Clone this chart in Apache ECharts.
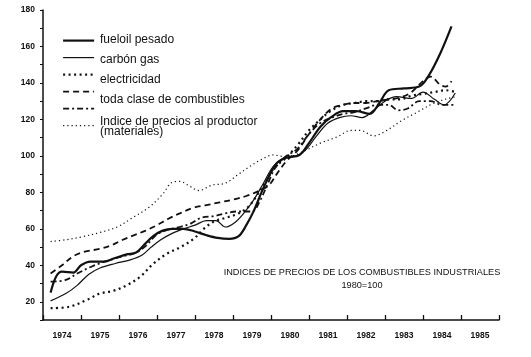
<!DOCTYPE html>
<html>
<head>
<meta charset="utf-8">
<script src="https://cdn.jsdelivr.net/npm/echarts@6/dist/echarts.min.js"></script>
<style>
html,body{margin:0;padding:0;background:#fff;}
#chart{width:531px;height:357px;}
</style>
</head>
<body>
<div id="chart"></div>
<script>
// Categories (x-axis years) and y tick values
const years = ['1974','1975','1976','1977','1978','1979','1980','1981','1982','1983','1984','1985'];
const yLabelValues = [20, 40, 60, 80, 100, 120, 140, 160, 180];

// Legend labels as printed
const legendLabels = ['fueloil pesado', 'carbón gas', 'electricidad', 'toda clase de combustibles', 'Indice de precios al productor', '(materiales)'];
const chartTitle = 'INDICES DE PRECIOS DE LOS COMBUSTIBLES INDUSTRIALES';
const chartSubtitle = '1980=100';

// Series values: [time in years, index value]
const fueloil = [[1974.2,25],[1974.35,34],[1974.5,36.5],[1974.8,36],[1975.0,40],[1975.25,42],[1975.6,42],[1975.9,44],[1976.2,46],[1976.45,47],[1976.65,51],[1976.9,56],[1977.15,59],[1977.4,60],[1977.7,60],[1978.0,58.5],[1978.3,56.5],[1978.6,55],[1978.9,54.5],[1979.15,56],[1979.35,62],[1979.55,70],[1979.75,80],[1979.95,89],[1980.15,96],[1980.4,99],[1980.75,100.5],[1981.0,107],[1981.3,116],[1981.6,121.5],[1981.9,124.5],[1982.25,124.5],[1982.6,123],[1982.85,129],[1983.1,136],[1983.5,137],[1983.9,138],[1984.15,144],[1984.45,156],[1984.75,171]];
const carbonGas = [[1974.2,20.5],[1974.6,24.5],[1974.9,29],[1975.2,35],[1975.5,38.5],[1975.9,41],[1976.3,43],[1976.6,45.5],[1976.85,50],[1977.1,54],[1977.4,57.5],[1977.7,60],[1978.0,62],[1978.3,64.5],[1978.55,64.5],[1978.8,61],[1979.05,63.5],[1979.3,69],[1979.55,76],[1979.8,85],[1980.05,94],[1980.3,98.5],[1980.6,99.5],[1980.9,103],[1981.2,111],[1981.5,118],[1981.8,121],[1982.1,122],[1982.4,121],[1982.7,125],[1983.0,130],[1983.3,132.5],[1983.7,131.5],[1984.0,135],[1984.3,131],[1984.55,128],[1984.85,134.5]];
const electricidad = [[1974.2,16.5],[1974.7,17.3],[1975.15,21],[1975.5,24.5],[1975.85,26],[1976.2,29],[1976.55,33.6],[1976.9,40.8],[1977.25,46.2],[1977.6,49.8],[1977.96,54.4],[1978.22,59.8],[1978.5,64],[1978.8,66],[1979.1,68],[1979.4,72],[1979.65,79],[1979.9,87],[1980.1,94],[1980.35,98],[1980.7,106],[1981.0,114],[1981.3,120],[1981.6,125],[1981.9,128],[1982.2,129],[1982.5,130],[1982.8,130],[1983.1,131],[1983.4,131],[1983.7,133],[1984.0,134],[1984.3,135],[1984.6,136],[1984.85,135]];
const gasDashed = [[1974.2,35.5],[1974.5,40],[1974.8,45],[1975.1,47.5],[1975.5,49],[1975.8,51],[1976.1,54],[1976.4,56.5],[1976.7,59],[1977.0,62],[1977.3,65.5],[1977.6,68.5],[1977.95,71.5],[1978.3,73],[1978.65,74.5],[1979.0,76],[1979.35,78],[1979.7,81],[1979.95,84],[1980.15,90],[1980.4,97],[1980.7,103],[1981.0,112],[1981.3,120],[1981.6,126],[1981.9,128],[1982.2,129],[1982.5,129],[1982.8,130],[1983.1,131],[1983.4,132],[1983.7,135],[1984.0,141],[1984.2,143.5],[1984.45,139],[1984.6,138],[1984.75,141]];
const todaClase = [[1974.2,31],[1974.6,32],[1974.9,35.5],[1975.3,39.5],[1975.7,42.5],[1976.1,45],[1976.4,46.5],[1976.7,50.5],[1977.0,57],[1977.3,59.5],[1977.6,61],[1977.9,63],[1978.15,66],[1978.5,67],[1978.8,68.5],[1979.1,69.5],[1979.5,69.5],[1979.7,75],[1979.9,84],[1980.1,93],[1980.35,99],[1980.7,104],[1981.0,112],[1981.3,118],[1981.6,121],[1981.9,123],[1982.2,124],[1982.5,126],[1982.8,128],[1983.1,128],[1983.35,125],[1983.6,126],[1983.9,130],[1984.2,130],[1984.5,128],[1984.85,128]];
const productor = [[1974.2,53],[1974.6,54],[1975.0,55.5],[1975.5,58],[1975.95,61],[1976.35,66],[1976.8,72],[1977.15,79],[1977.4,85.5],[1977.6,86],[1977.85,83.5],[1978.1,81],[1978.45,84],[1978.8,85],[1979.15,90],[1979.5,95],[1979.75,98],[1980.05,100.5],[1980.4,99.5],[1980.75,101.5],[1981.3,107],[1981.75,110.5],[1982.1,114],[1982.35,114],[1982.7,111],[1983.05,114],[1983.45,119.5],[1983.85,124],[1984.25,128.5],[1984.65,131.5],[1984.9,132.5]];

const chart = echarts.init(document.getElementById('chart'), null, {renderer: 'canvas'});
const ink = '#111';
const font = '"Liberation Sans", Arial, sans-serif';

function mk(name, data, width, dash) {
  return {
    name: name, type: 'line', xAxisIndex: 1, yAxisIndex: 0,
    data: data, smooth: 0.35, symbol: 'none', silent: true,
    color: ink,
    itemStyle: {color: ink},
    lineStyle: {color: ink, width: width, type: dash, cap: 'butt'},
    z: 3
  };
}

const series = [
  mk('fueloil pesado', fueloil, 2.2, 'solid'),
  mk('carbón gas', carbonGas, 1.2, 'solid'),
  mk('electricidad', electricidad, 2.2, [2, 3.5]),
  mk('gas', gasDashed, 1.8, [6, 4]),
  mk('toda clase de combustibles', todaClase, 1.8, [6, 3, 2, 3]),
  mk('Indice de precios al productor (materiales)', productor, 1.2, [1.2, 3])
];

chart.setOption({
  animation: false,
  backgroundColor: '#fff',
  color: [ink],
  grid: {left: 43, right: 32, top: 10, bottom: 37, containLabel: false},
  legend: {
    orient: 'vertical', left: 57, top: 30,
    itemWidth: 31, itemHeight: 14, itemGap: 5.8,
    selectedMode: false,
    formatter: function () { return ''; },
    textStyle: {fontSize: 8, lineHeight: 10},
    itemStyle: {opacity: 0, borderWidth: 0},
    lineStyle: {width: 'inherit'},
    data: series.map(s => s.name)
  },
  xAxis: [{
    type: 'category', data: years, boundaryGap: true, position: 'bottom',
    axisLine: {lineStyle: {color: ink, width: 1.5}},
    axisTick: {show: true, inside: true, length: 5, interval: 0, lineStyle: {color: ink, width: 1.3}},
    axisLabel: {color: ink, fontSize: 8.5, fontWeight: 'bold', fontFamily: font, margin: 11, interval: 0},
    splitLine: {show: false}
  }, {
    type: 'value', min: 1974, max: 1986, show: false, position: 'bottom'
  }],
  yAxis: [{
    type: 'value', min: 10, max: 180, interval: 10,
    axisLine: {show: true, lineStyle: {color: ink, width: 1.5}},
    axisTick: {show: true, length: 3, lineStyle: {color: ink, width: 1}},
    axisLabel: {
      color: ink, fontSize: 8.5, fontWeight: 'bold', fontFamily: font, margin: 8,
      formatter: function (v) { return yLabelValues.indexOf(v) >= 0 ? String(v) : ''; }
    },
    splitLine: {show: false}
  }],
  graphic: [
    {type: 'text', left: 100, top: 34, style: {text: legendLabels[0], font: '12px ' + font, fill: ink}},
    {type: 'text', left: 100, top: 54, style: {text: legendLabels[1], font: '12px ' + font, fill: ink}},
    {type: 'text', left: 100, top: 74, style: {text: legendLabels[2], font: '12px ' + font, fill: ink}},
    {type: 'text', left: 100, top: 94, style: {text: legendLabels[3], font: '12px ' + font, fill: ink}},
    {type: 'text', left: 100, top: 116, style: {text: legendLabels[4], font: '12px ' + font, fill: ink}},
    {type: 'text', left: 100, top: 126, style: {text: legendLabels[5], font: '12px ' + font, fill: ink}},
    {type: 'text', x: 362, y: 272, style: {text: chartTitle, font: '9.2px ' + font, fill: ink, textAlign: 'center', textVerticalAlign: 'middle'}},
    {type: 'text', x: 362, y: 285, style: {text: chartSubtitle, font: '9.2px ' + font, fill: ink, textAlign: 'center', textVerticalAlign: 'middle'}}
  ],
  series: series
});
</script>
</body>
</html>
